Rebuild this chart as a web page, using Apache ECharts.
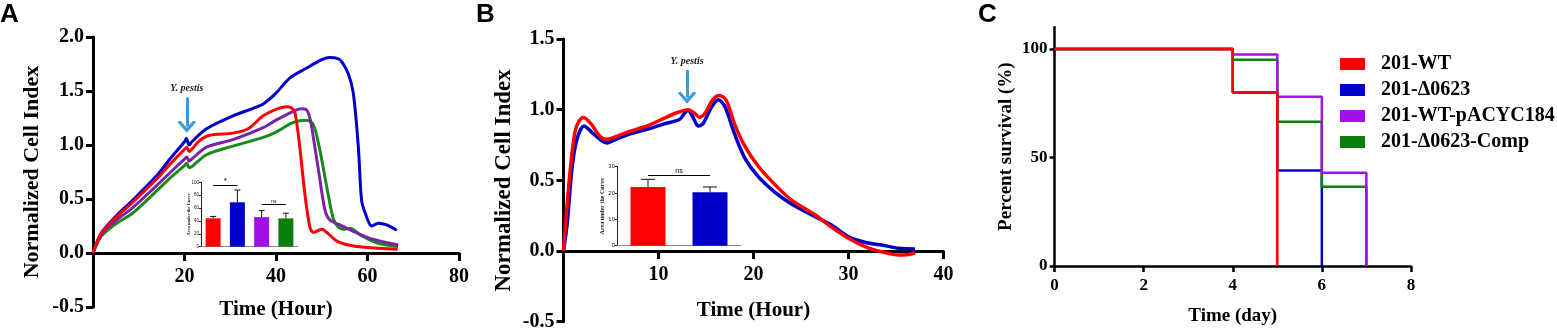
<!DOCTYPE html>
<html>
<head>
<meta charset="utf-8">
<script src="https://cdn.jsdelivr.net/npm/echarts@6/dist/echarts.min.js"></script>
<style>
  html, body { margin: 0; padding: 0; background: #fff; }
  #chart { width: 1557px; height: 334px; }
</style>
</head>
<body>
<div id="chart"></div>
<script>
// panel A: normalized cell index, [hour, value]
const aWT = [[0,0],[1.8,0.18],[5,0.33],[8.7,0.47],[13.8,0.68],[17,0.83],[20,0.96],[20.5,0.98],[21,0.94],[21.6,0.96],[23.3,1.04],[25.5,1.09],[30.6,1.11],[33.9,1.15],[37.2,1.27],[40,1.33],[42.3,1.355],[43.5,1.34],[44.2,1.29],[45.2,0.98],[46.3,0.55],[47.4,0.24],[48.2,0.19],[50,0.22],[51.4,0.18],[53.3,0.11],[56.9,0.065],[62.7,0.043],[66.6,0.035]];
const aDel = [[0,0],[1.8,0.185],[5,0.34],[8.7,0.49],[13.8,0.71],[17,0.88],[20,1.03],[20.4,1.06],[21,1.0],[21.6,1.03],[24.8,1.15],[30.6,1.27],[35,1.34],[37.2,1.38],[40,1.48],[43,1.62],[46.6,1.71],[50,1.79],[51.8,1.81],[53.5,1.8],[54.4,1.77],[55.8,1.66],[56.9,1.48],[58,0.98],[58.7,0.49],[59.5,0.37],[60.9,0.25],[62.4,0.275],[64.2,0.26],[66.4,0.21]];
const aWTp = [[0,0],[1.8,0.17],[5,0.3],[8.7,0.42],[13.8,0.62],[17,0.75],[20,0.87],[20.5,0.89],[21,0.85],[21.6,0.87],[24.8,0.98],[30.6,1.05],[37.2,1.16],[40,1.23],[43.7,1.31],[45.5,1.335],[46.5,1.33],[47.4,1.25],[48.5,0.98],[49.6,0.68],[50.7,0.4],[51.8,0.305],[54,0.26],[56.9,0.2],[60.5,0.135],[66.7,0.074]];
const aComp = [[0,0],[1.8,0.155],[5,0.27],[8.7,0.37],[13.8,0.57],[17,0.7],[20,0.81],[20.5,0.83],[21,0.79],[21.6,0.8],[24.8,0.91],[30.6,0.99],[37.2,1.07],[40,1.12],[43.8,1.21],[46.7,1.23],[48.2,1.185],[49.6,0.95],[51.1,0.61],[52.5,0.32],[53.6,0.24],[54.7,0.22],[56.2,0.23],[58.4,0.167],[62,0.095],[66.7,0.06]];

// panel A inset: area under the curve
const aucACats = ['201-WT', '201-Δ0623', '201-WT-pACYC184', '201-Δ0623-Comp'];
const aucAMean = [44, 69, 46, 44];
const aucAErr = [3, 19, 10, 8];

// panel B
const bWT = [[0,0],[0.7,0.57],[1.2,0.84],[1.6,0.915],[2.1,0.945],[2.9,0.9],[3.85,0.81],[4.56,0.79],[5.35,0.805],[6.67,0.84],[8.9,0.887],[10.6,0.94],[12,0.98],[13.1,1.0],[13.8,0.975],[14.3,0.946],[14.9,0.975],[15.7,1.07],[16.4,1.1],[17.1,1.07],[18,0.9],[19.1,0.74],[20.5,0.6],[22.3,0.467],[24,0.36],[26.5,0.255],[28.2,0.17],[30,0.09],[31.8,0.03],[33.5,-0.005],[35.3,-0.028],[36.3,-0.024],[37,-0.012]];
const bDel = [[0,0],[0.4,0.2],[0.87,0.57],[1.39,0.785],[2.16,0.884],[2.98,0.84],[4.03,0.78],[4.56,0.765],[5.35,0.785],[7.1,0.83],[8.9,0.863],[10.6,0.9],[12.2,0.93],[12.75,0.975],[13.1,0.998],[13.6,0.95],[14.2,0.884],[14.7,0.903],[15.6,1.02],[16.3,1.07],[17,1.02],[18,0.83],[19.1,0.656],[20.5,0.526],[22.3,0.413],[24,0.333],[26.5,0.243],[28.2,0.184],[30,0.1],[31.8,0.06],[33.5,0.042],[35.3,0.019],[37,0.014]];

const aucBCats = ['201-WT', '201-Δ0623'];
const aucBMean = [22.3, 20.3];
const aucBErr = [2.9, 2.0];

// panel C: survival, day / percent
const cNames = ['201-WT', '201-Δ0623', '201-WT-pACYC184', '201-Δ0623-Comp'];
const cDays = [[0,4,5], [0,4,5,6], [0,4,5,6,7], [0,4,5,6,7]];
const cSurv = [[100,80,0], [100,80,44,0], [100,97.5,78,43,0], [100,95,66.5,36.5,0]];

const SERIF = "'Liberation Serif', 'Times New Roman', serif";
const SANS = "'Liberation Sans', Arial, sans-serif";
const RED = '#ff0000', BLUE = '#0000c8', PURPLE = '#a30fe6', GREEN = '#0b7f0b';
const PURPLE_A = '#7b22a6', GREEN_A = '#1a8a1a', ARROW = '#3a9ad9';
const barColorsA = [RED, BLUE, PURPLE, GREEN];
const chevron = 'path://M0,9 L5,0 L10,9 L8.3,10 L5,3.8 L1.7,10 Z';

const chart = echarts.init(document.getElementById('chart'));

const bold = (size, family) => ({ fontSize: size, fontWeight: 'bold', fontFamily: family || SERIF, color: '#000' });

// x axis drawn at the y = 0 line: shift it up from the grid bottom
function mainX(grid, max, interval, lift, gap) {
  return {
    gridIndex: grid, type: 'value', min: 0, max, interval, offset: -lift,
    axisLine: { onZero: false, lineStyle: { color: '#000', width: 3 } },
    axisTick: { length: 8, lineStyle: { color: '#000', width: 3 } },
    axisLabel: Object.assign({ margin: 14, formatter: v => v === 0 ? '' : v }, bold(20)),
    splitLine: { show: false },
    name: 'Time (Hour)', nameLocation: 'middle', nameGap: gap, nameTextStyle: bold(21), nameMoveOverlap: false
  };
}
function mainY(grid, min, max, gap, nameSize) {
  return {
    gridIndex: grid, type: 'value', min, max, interval: 0.5,
    axisLine: { show: true, onZero: false, lineStyle: { color: '#000', width: 3 } },
    axisTick: { show: true, length: 7, lineStyle: { color: '#000', width: 3 } },
    axisLabel: Object.assign({ margin: 9, formatter: v => v.toFixed(1) }, bold(20)),
    splitLine: { show: false },
    name: 'Normalized Cell Index', nameLocation: 'middle', nameRotate: 90, nameGap: gap,
    nameTextStyle: bold(nameSize), nameMoveOverlap: false
  };
}
function insetX(grid, cats) {
  return {
    gridIndex: grid, type: 'category', data: cats,
    axisLine: { lineStyle: { color: '#888', width: 1 } },
    axisTick: { show: false }, axisLabel: { show: false }
  };
}
function insetY(grid, max, interval, size, gap) {
  return {
    gridIndex: grid, type: 'value', min: 0, max, interval,
    axisLine: { show: true, lineStyle: { color: '#222', width: 1 } },
    axisTick: { show: true, length: 2, lineStyle: { color: '#222', width: 1 } },
    axisLabel: { margin: 2, fontSize: size, fontFamily: SANS, color: '#222' },
    splitLine: { show: false },
    name: 'Area under the Curve', nameLocation: 'middle', nameRotate: 90, nameGap: gap,
    nameTextStyle: { fontSize: size, fontFamily: SERIF, fontWeight: 'bold', color: '#222' }, nameMoveOverlap: false
  };
}
function line(name, data, color, x, width, z) {
  return {
    type: 'line', name, data, xAxisIndex: x, yAxisIndex: x, showSymbol: false, smooth: 0.3,
    lineStyle: { color, width }, itemStyle: { color }, z, silent: true
  };
}
function arrowMark(t, vTop, vTip) {
  return {
    silent: true, symbol: ['none', chevron], symbolSize: [19, 12],
    lineStyle: { color: ARROW, width: 3, type: 'solid' },
    label: { show: true, position: 'start', distance: 4, formatter: 'Y. pestis',
      fontStyle: 'italic', fontWeight: 'bold', fontSize: 10, fontFamily: SERIF, color: '#222' },
    data: [[{ coord: [t, vTop] }, { coord: [t, vTip] }]]
  };
}
function bars(x, cats, means, colors, width, sig) {
  return {
    type: 'bar', xAxisIndex: x, yAxisIndex: x, barWidth: width, silent: true,
    data: means.map((v, i) => ({ value: v, itemStyle: { color: colors[i] } })),
    markLine: {
      silent: true, symbol: ['none', 'none'],
      lineStyle: { color: '#000', width: 1, type: 'solid' },
      label: { show: true, position: 'insideMiddleTop', distance: 0, formatter: p => p.name, color: '#000', fontFamily: SANS },
      data: sig.map(s => [
        { name: s.text, coord: [cats[s.from], s.y], label: { fontSize: s.size } },
        { coord: [cats[s.to], s.y] }
      ])
    }
  };
}
function errors(x, means, errs, cap) {
  return {
    type: 'custom', xAxisIndex: x, yAxisIndex: x, silent: true, z: 3,
    data: means.map((m, i) => [i, m, m + errs[i]]),
    renderItem: (params, api) => {
      const lo = api.coord([api.value(0), api.value(1)]);
      const hi = api.coord([api.value(0), api.value(2)]);
      const st = { stroke: '#111', lineWidth: 1 };
      return { type: 'group', children: [
        { type: 'line', shape: { x1: lo[0], y1: lo[1], x2: hi[0], y2: hi[1] }, style: st },
        { type: 'line', shape: { x1: hi[0] - cap / 2, y1: hi[1], x2: hi[0] + cap / 2, y2: hi[1] }, style: st }
      ] };
    }
  };
}

const aDelLine = line('A 201-Δ0623', aDel, BLUE, 0, 3, 3);
aDelLine.markLine = arrowMark(20.5, 1.44, 1.17);
const bDelLine = line('B 201-Δ0623', bDel, BLUE, 2, 3.5, 3);
bDelLine.markLine = arrowMark(13, 1.28, 1.085);

const survColors = [RED, BLUE, PURPLE, GREEN];
const survZ = [6, 3, 5, 4];
const survival = cNames.map((n, k) => ({
  type: 'line', name: n, xAxisIndex: 4, yAxisIndex: 4, step: 'end', showSymbol: false, silent: true,
  data: cDays[k].map((d, i) => [d, cSurv[k][i]]),
  lineStyle: { color: survColors[k], width: 2.5 }, itemStyle: { color: survColors[k] }, z: survZ[k]
}));

chart.setOption({
  animation: false,
  title: [
    { text: 'A', left: 0, top: 2, padding: 0, textStyle: bold(26, SANS) },
    { text: 'B', left: 476, top: 2, padding: 0, textStyle: bold(26, SANS) },
    { text: 'C', left: 978, top: 2, padding: 0, textStyle: bold(26, SANS) }
  ],
  legend: {
    data: cNames, orient: 'vertical', left: 1340, top: 54, padding: 0,
    itemWidth: 25, itemHeight: 12, itemGap: 6, icon: 'rect', selectedMode: false,
    textStyle: Object.assign({ lineHeight: 20, padding: [0, 0, 0, 11] }, bold(20))
  },
  grid: [
    { left: 93, top: 37, width: 366, height: 270, outerBoundsMode: 'none' },
    { left: 201, top: 182.3, width: 97, height: 64.4, outerBoundsMode: 'none' },
    { left: 563.5, top: 39, width: 380, height: 282.7, outerBoundsMode: 'none' },
    { left: 617, top: 166.7, width: 124, height: 79, outerBoundsMode: 'none' },
    { left: 1054.6, top: 27.3, width: 356.3, height: 238.7, outerBoundsMode: 'none' }
  ],
  xAxis: [
    mainX(0, 80, 20, 54, 46),
    insetX(1, aucACats),
    mainX(2, 40, 10, 70.7, 49),
    insetX(3, aucBCats),
    {
      gridIndex: 4, type: 'value', min: 0, max: 8, interval: 2,
      axisLine: { lineStyle: { color: '#000', width: 2.5 } },
      axisTick: { length: 6, lineStyle: { color: '#000', width: 2.5 } },
      axisLabel: Object.assign({ margin: 11 }, bold(17)),
      splitLine: { show: false },
      name: 'Time (day)', nameLocation: 'middle', nameGap: 41, nameTextStyle: bold(19), nameMoveOverlap: false
    }
  ],
  yAxis: [
    mainY(0, -0.5, 2, 50, 22),
    insetY(1, 100, 20, 4.5, 10),
    mainY(2, -0.5, 1.5, 48, 23),
    insetY(3, 30, 10, 6, 12),
    {
      gridIndex: 4, type: 'value', min: 0, max: 110,
      axisLine: { show: true, lineStyle: { color: '#000', width: 2.5 } },
      axisTick: { show: true, length: 5, customValues: [0, 50, 100], lineStyle: { color: '#000', width: 2.5 } },
      axisLabel: Object.assign({ margin: 7, customValues: [0, 50, 100] }, bold(17)),
      splitLine: { show: false },
      name: 'Percent survival (%)', nameLocation: 'middle', nameRotate: 90, nameGap: 39,
      nameTextStyle: bold(19), nameMoveOverlap: false
    }
  ],
  series: [
    line('A 201-Δ0623-Comp', aComp, GREEN_A, 0, 3, 2),
    line('A 201-WT-pACYC184', aWTp, PURPLE_A, 0, 3, 2),
    aDelLine,
    line('A 201-WT', aWT, RED, 0, 3, 4),
    bars(1, aucACats, aucAMean, barColorsA, 15, [
      { text: '*', from: 0, to: 1, y: 96, size: 8 },
      { text: 'ns', from: 2, to: 3, y: 66, size: 5 }
    ]),
    errors(1, aucAMean, aucAErr, 6),
    bDelLine,
    line('B 201-WT', bWT, RED, 2, 3.5, 4),
    bars(3, aucBCats, aucBMean, [RED, BLUE], 35, [
      { text: 'ns', from: 0, to: 1, y: 26.9, size: 7 }
    ]),
    errors(3, aucBMean, aucBErr, 14),
    ...survival
  ]
});
</script>
</body>
</html>
